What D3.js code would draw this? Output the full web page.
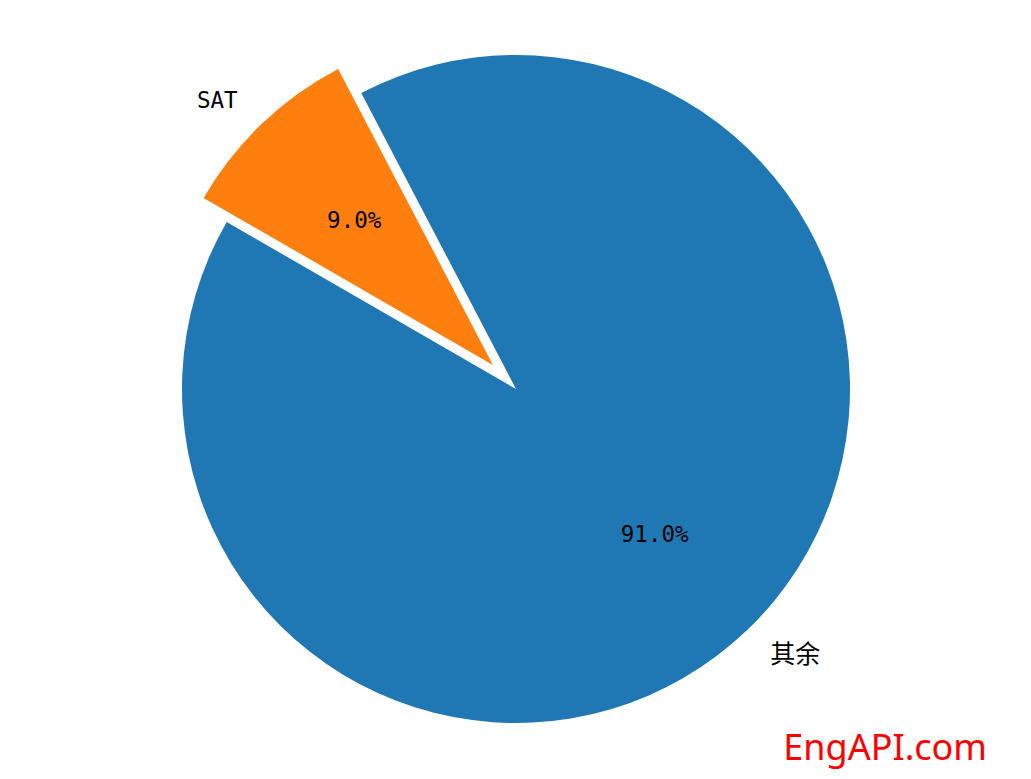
<!DOCTYPE html>
<html><head><meta charset="utf-8">
<script src="https://cdn.jsdelivr.net/npm/d3@7"></script>
<style>body{margin:0;background:#fff}svg{display:block}</style>
</head><body>
<script>
const categories = ["SAT", "其余"];
const values = [9, 91];
const colors = ["#ff7f0e", "#1f77b4"];
const explode = [0.1, 0];
const startAngleDeg = -60;

const W = 1031, H = 779;
const cx = 516, cy = 389, R = 334;
const svg = d3.select("body").append("svg").attr("width", W).attr("height", H);
const g = svg.append("g").attr("transform", `translate(${cx},${cy})`);

const pie = d3.pie().sort(null).startAngle(startAngleDeg * Math.PI / 180)
  .endAngle(startAngleDeg * Math.PI / 180 + 2 * Math.PI);
const arcs = pie(values);
const arc = d3.arc().innerRadius(0).outerRadius(R);
const total = d3.sum(values);
const font = "'DejaVu Sans Mono', 'Noto Sans CJK SC', monospace";
const isCJK = s => /[\u4e00-\u9fff]/.test(s);

arcs.forEach((d, i) => {
  const mid = (d.startAngle + d.endAngle) / 2;
  const ux = Math.sin(mid), uy = -Math.cos(mid);
  const ox = explode[i] * R * ux, oy = explode[i] * R * uy;
  const sg = g.append("g").attr("transform", `translate(${ox},${oy})`);
  sg.append("path").attr("d", arc(d)).attr("fill", colors[i]);
  sg.append("text")
    .attr("x", 1.1 * R * ux + (ux < 0 ? -1 : 0)).attr("y", 1.1 * R * uy)
    .attr("text-anchor", ux < 0 ? "end" : "start")
    .attr("dominant-baseline", "central")
    .attr("font-family", font).attr("font-size", isCJK(categories[i]) ? 25 : 22.5)
    .attr("fill", "#000").text(categories[i]);
  sg.append("text")
    .attr("x", 0.6 * R * ux).attr("y", 0.6 * R * uy)
    .attr("text-anchor", "middle")
    .attr("dominant-baseline", "central")
    .attr("font-family", font).attr("font-size", 22.5)
    .attr("fill", "#000").text((values[i] / total * 100).toFixed(1) + "%");
});

svg.append("text").attr("x", 987).attr("y", 760).attr("text-anchor", "end")
  .attr("font-family", "'Noto Sans', 'Open Sans', sans-serif").attr("font-size", 36)
  .attr("fill", "#ff0000").text("EngAPI.com");
</script>
</body></html>
